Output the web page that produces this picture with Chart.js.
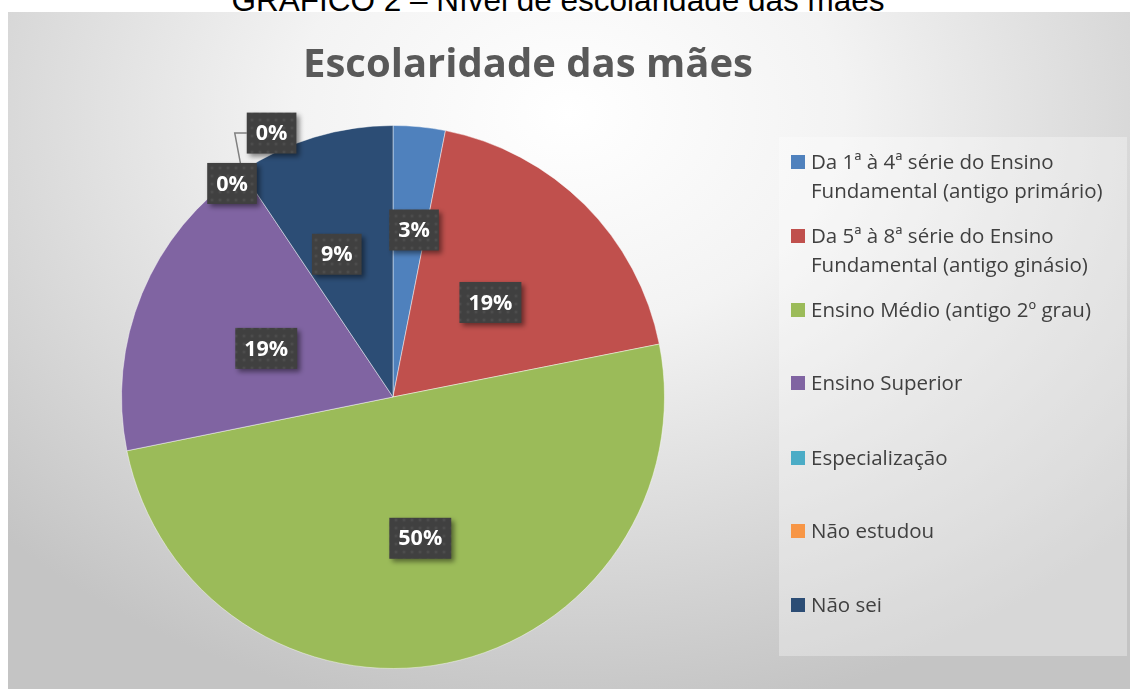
<!DOCTYPE html>
<html>
<head>
<meta charset="utf-8">
<script src="https://cdn.jsdelivr.net/npm/chart.js@4.4.0/dist/chart.umd.min.js"></script>
<style>
  body { margin: 0; width: 1130px; height: 689px; overflow: hidden; background: #fff; position: relative; font-family: "Open Sans", sans-serif; }
  #caption { position: absolute; left: 0; top: -15px; width: 1116px; text-align: center; font: 31.5px/31px "Liberation Sans", Arial, sans-serif; color: #000; white-space: nowrap; }
  #box { position: absolute; left: 8px; top: 12px; width: 1122px; height: 677px;
         background: radial-gradient(ellipse 70% 90% at 50% 15%, #ffffff 0%, #f3f3f3 35%, #c4c4c4 100%); }
  #title { position: absolute; left: 0; top: 30px; width: 1040px; text-align: center; font: bold 40px/40px "Open Sans", sans-serif; color: #595959; }
  #pie { position: absolute; left: 0; top: 0; }
  #legend { position: absolute; left: 771px; top: 125px; width: 348px; height: 519px; background: rgba(255,255,255,0.32); }
  .item { position: absolute; left: 12px; font-size: 20.5px; line-height: 29px; color: #404040; white-space: nowrap; }
  .item i { position: absolute; left: 0; top: 8px; width: 14px; height: 14px; }
  .item span { display: block; padding-left: 20px; }
</style>
</head>
<body>
<div id="caption">GRÁFICO 2 – Nível de escolaridade das mães</div>
<div id="box">
  <canvas id="pie" width="1122" height="677"></canvas>
  <div id="title">Escolaridade das mães</div>
  <div id="legend"></div>
</div>
<script>
// Categorias (quebradas em linhas como na legenda original)
let categories = [
  ["Da 1ª à 4ª série do Ensino", "Fundamental (antigo primário)"],
  ["Da 5ª à 8ª série do Ensino", "Fundamental (antigo ginásio)"],
  ["Ensino Médio (antigo 2º grau)"],
  ["Ensino Superior"],
  ["Especialização"],
  ["Não estudou"],
  ["Não sei"]
];
// Percentuais
let shares = [3.1, 18.8, 50.0, 18.8, 0, 0, 9.4];

let colors = ["#4f81bd", "#c0504d", "#9bbb59", "#8064a2", "#4bacc6", "#f79646", "#2c4d75"];

// posição dos rótulos: fração do raio e desvio angular (graus)
let labelRadius = [0.62, 0.5, 0.53, 0.5, 0.985, 1.07, 0.565];
let labelShift = [1.6, 0.9, 0.4, -1.4, -3.2, 9.1, -4.6];
// centro vertical da primeira linha de cada item da legenda (px dentro da legenda)
let legendRows = [24, 98, 172, 245, 320, 393, 467];

// legenda em HTML
let legend = document.getElementById("legend");
categories.forEach(function (lines, i) {
  let div = document.createElement("div");
  div.className = "item";
  div.style.top = (legendRows[i] - 14.5) + "px";
  div.innerHTML = '<i style="background:' + colors[i] + '"></i><span>' + lines.join("<br>") + "</span>";
  legend.appendChild(div);
});

// padrão pontilhado das caixas dos rótulos
function makePattern(ctx) {
  let c = document.createElement("canvas");
  c.width = 8; c.height = 8;
  let p = c.getContext("2d");
  p.fillStyle = "#404040";
  p.fillRect(0, 0, 8, 8);
  let g = p.createRadialGradient(4, 4, 0, 4, 4, 3);
  g.addColorStop(0, "#555555");
  g.addColorStop(1, "rgba(64,64,64,0)");
  p.fillStyle = g;
  p.fillRect(0, 0, 8, 8);
  return ctx.createPattern(c, "repeat");
}

let dataLabels = {
  id: "dataLabels",
  afterDatasetsDraw: function (chart) {
    let ctx = chart.ctx;
    let arcs = chart.getDatasetMeta(0).data;
    let values = chart.data.datasets[0].data;
    let total = values.reduce((a, b) => a + b, 0);
    let pattern = makePattern(ctx);
    ctx.save();
    ctx.font = "bold 21.5px 'Open Sans', sans-serif";
    let boxes = arcs.map(function (arc, i) {
      let p = arc.getProps(["x", "y", "startAngle", "endAngle", "outerRadius"], true);
      let mid = (p.startAngle + p.endAngle) / 2;
      let a = mid + labelShift[i] * Math.PI / 180;
      let cx = p.x + Math.cos(a) * p.outerRadius * labelRadius[i];
      let cy = p.y + Math.sin(a) * p.outerRadius * labelRadius[i];
      let text = Math.round(values[i] / total * 100) + "%";
      let w = ctx.measureText(text).width + 18;
      let h = 41;
      return { text: text, x: cx - w / 2, y: cy - h / 2, w: w, h: h, cx: cx, cy: cy,
               ex: p.x + Math.cos(mid) * p.outerRadius, ey: p.y + Math.sin(mid) * p.outerRadius,
               outside: labelRadius[i] > 1 };
    });
    // linha de chamada para rótulos fora da pizza
    boxes.forEach(function (b) {
      if (!b.outside) return;
      ctx.strokeStyle = "#808080";
      ctx.lineWidth = 1.5;
      ctx.beginPath();
      ctx.moveTo(b.ex, b.ey);
      ctx.lineTo(b.x - 12, b.cy);
      ctx.lineTo(b.x, b.cy);
      ctx.stroke();
    });
    boxes.forEach(function (b) {
      ctx.shadowColor = "rgba(0,0,0,0.45)";
      ctx.shadowBlur = 5;
      ctx.shadowOffsetX = 3;
      ctx.shadowOffsetY = 3;
      ctx.fillStyle = pattern;
      ctx.fillRect(b.x, b.y, b.w, b.h);
      ctx.shadowColor = "transparent";
      ctx.fillStyle = "#ffffff";
      ctx.textAlign = "center";
      ctx.textBaseline = "middle";
      ctx.fillText(b.text, b.cx, b.cy + 1);
    });
    ctx.restore();
  }
};

new Chart(document.getElementById("pie"), {
  type: "pie",
  data: {
    labels: categories.map((l) => l.join(" ")),
    datasets: [{
      data: shares,
      backgroundColor: colors,
      borderColor: "rgba(255,255,255,0.45)",
      borderWidth: 1
    }]
  },
  options: {
    responsive: false,
    animation: false,
    layout: { padding: { top: 113, left: 113, right: 465, bottom: 20 } },
    plugins: { legend: { display: false }, tooltip: { enabled: false } }
  },
  plugins: [dataLabels]
});
</script>
</body>
</html>
